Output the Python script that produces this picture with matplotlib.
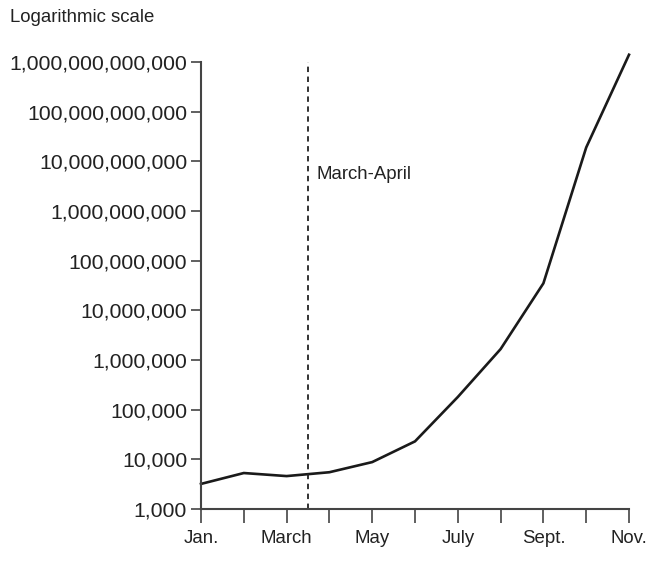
import matplotlib
matplotlib.use("Agg")
import matplotlib.pyplot as plt
from matplotlib.ticker import FixedLocator, FixedFormatter

months = ["Jan.", "Feb.", "March", "April", "May", "June", "July", "Aug.", "Sept.", "Oct.", "Nov."]
values = [3200, 5300, 4600, 5500, 8800, 23000, 180000, 1.66e6, 3.5e7, 1.9e10, 1.4e12]
shown_labels = ["Jan.", "", "March", "", "May", "", "July", "", "Sept.", "", "Nov."]
ytick_values = [1e3, 1e4, 1e5, 1e6, 1e7, 1e8, 1e9, 1e10, 1e11, 1e12]
ytick_labels = ["1,000", "10,000", "100,000", "1,000,000", "10,000,000", "100,000,000",
                "1,000,000,000", "10,000,000,000", "100,000,000,000", "1,000,000,000,000"]
marker_x = 2.5
marker_label = "March-April"

plt.rcParams['font.family'] = ['Liberation Sans', 'DejaVu Sans']
txt = "#222222"

fig = plt.figure(figsize=(6.59, 5.78), dpi=100)
ax = fig.add_axes([201/659, 1 - 509/578, (629-201)/659, (509-62)/578])

x = list(range(len(months)))
ax.plot(x, values, color="#1a1a1a", lw=1.9, clip_on=False, solid_joinstyle="miter")
ax.set_yscale("log")
ax.set_ylim(1e3, 1e12)
ax.set_xlim(0, 10)

ax.axvline(marker_x, color="#222222", lw=1.3, ls=(0, (3, 2.5)))
ax.text(marker_x + 0.2, 5.5e9, marker_label, fontsize=13.4, color=txt, va="center", ha="left")

ax.yaxis.set_major_locator(FixedLocator(ytick_values))
ax.yaxis.set_major_formatter(FixedFormatter(ytick_labels))
ax.yaxis.set_minor_locator(FixedLocator([]))
ax.set_xticks(x)
ax.set_xticklabels(shown_labels)

ax.tick_params(axis="y", labelsize=15.3, colors="#444444", labelcolor=txt, length=7, width=1.2, pad=3)
ax.tick_params(axis="x", labelsize=13.4, colors="#444444", labelcolor=txt, length=10, width=1.2, pad=5)

for s in ["top", "right"]:
    ax.spines[s].set_visible(False)
for s in ["left", "bottom"]:
    ax.spines[s].set_color("#444444")
    ax.spines[s].set_linewidth(1.5)

fig.text(10/659, 1 - 17/578, "Logarithmic scale", fontsize=13.4, color=txt, va="center", ha="left")

fig.savefig("out.png", dpi=100, facecolor="white")
